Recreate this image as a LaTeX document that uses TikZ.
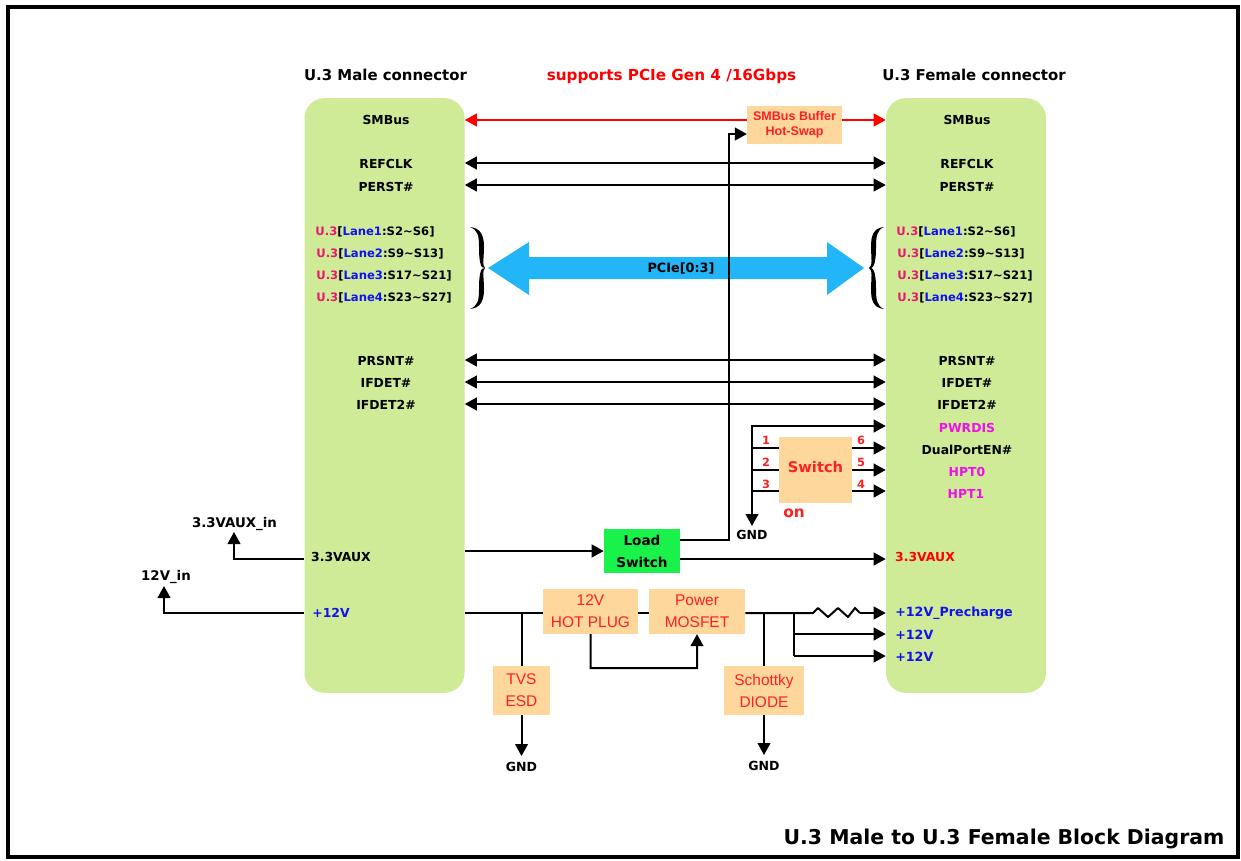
\documentclass[tikz,border=0pt]{standalone}
\usepackage{fontspec}
\setmainfont{DejaVu Sans}
\newfontfamily\armfont{Liberation Sans}
\usetikzlibrary{arrows.meta,calc}
\definecolor{boxgreen}{HTML}{D0EB98}
\definecolor{peach}{HTML}{FDD79B}
\definecolor{lime}{HTML}{18F24A}
\definecolor{skyb}{HTML}{22B5F8}
\definecolor{pinkr}{HTML}{E8186E}
\definecolor{lanebl}{HTML}{1010F0}
\definecolor{magen}{HTML}{F010E8}
\definecolor{redt}{HTML}{FF2020}
\tikzset{
 x=0.75pt,y=-0.75pt,
 tip/.tip={Triangle[length=9pt,width=9.5pt]},
 conn/.style={line width=1.5pt,black},
 wire/.style={conn,-tip},
 dbl/.style={conn,tip-tip},
 panel/.style={fill=boxgreen,draw=none,rounded corners=15pt,minimum width=120pt,minimum height=446pt,inner sep=0pt},
 peachbox/.style={fill=peach,draw=none,inner sep=0pt,align=center,text=redt,font=\armfont\fontsize{11.6}{16.5}\selectfont},
 sig/.style={inner sep=0pt,yshift=-0.75pt,font=\bfseries\fontsize{9.3}{10}\selectfont},
 lanesig/.style={inner sep=0pt,font=\bfseries\fontsize{8.7}{10}\selectfont},
 gndl/.style={inner sep=0pt,font=\bfseries\fontsize{9.4}{10}\selectfont},
 hdr/.style={inner sep=0pt,yshift=-0.75pt,font=\bfseries\fontsize{11.2}{12}\selectfont},
 pin/.style={inner sep=0pt,text=redt,font=\bfseries\fontsize{8.5}{9}\selectfont},
}
\newcommand{\lane}[2]{{\color{pinkr}U.3}[{\color{lanebl}Lane#1}:#2]}
\begin{document}
\begin{tikzpicture}
\useasboundingbox (0,0) rectangle (1241,860);
\fill[white] (0,0) rectangle (1241,860);
\draw[black,line width=2.6pt] (8,7) rectangle (1238,857);
\node[panel] (male) at (384.5,395.5) {};
\node[panel] (female) at (966,395.5) {};
\node[hdr] (tm) at (385.5,74) {U.3 Male connector};
\node[hdr] (tf) at (974,74) {U.3 Female connector};
\node[hdr,text=red,font=\bfseries\fontsize{11.4}{12}\selectfont] (ts) at (671.5,75) {supports PCIe Gen 4 /16Gbps};
\node[inner sep=0pt,font=\bfseries\fontsize{15.3}{16}\selectfont] (tb) at (1004,838.5) {U.3 Male to U.3 Female Block Diagram};
% male labels
\node[sig] (ma) at (386,119) {SMBus};
\node[sig] (mb) at (386,163) {REFCLK};
\node[sig] (mc) at (386,186) {PERST\#};
\node[lanesig] (ml1) at (375,232) {\lane{1}{S2\textasciitilde S6}};
\node[lanesig] (ml2) at (380,254) {\lane{2}{S9\textasciitilde S13}};
\node[lanesig] (ml3) at (384,276) {\lane{3}{S17\textasciitilde S21}};
\node[lanesig] (ml4) at (384,298) {\lane{4}{S23\textasciitilde S27}};
\node[sig] (md) at (386,360) {PRSNT\#};
\node[sig] (me) at (386,382) {IFDET\#};
\node[sig] (mf) at (386,404) {IFDET2\#};
\node[sig] (mg) at (341,556) {3.3VAUX};
\node[sig,text=lanebl] (mh) at (331,612) {+12V};
% female labels
\node[sig] (fa) at (967,119) {SMBus};
\node[sig] (fb) at (967,163) {REFCLK};
\node[sig] (fc) at (967,186) {PERST\#};
\node[lanesig] (fl1) at (956,232) {\lane{1}{S2\textasciitilde S6}};
\node[lanesig] (fl2) at (961,254) {\lane{2}{S9\textasciitilde S13}};
\node[lanesig] (fl3) at (965,276) {\lane{3}{S17\textasciitilde S21}};
\node[lanesig] (fl4) at (965,298) {\lane{4}{S23\textasciitilde S27}};
\node[sig] (fd) at (967,360) {PRSNT\#};
\node[sig] (fe) at (967,382) {IFDET\#};
\node[sig] (ff) at (967,404) {IFDET2\#};
\node[sig,text=magen] (fg) at (967,427) {PWRDIS};
\node[sig] (fh) at (967,449) {DualPortEN\#};
\node[sig,text=magen] (fi) at (967,471) {HPT0};
\node[sig,text=magen] (fj) at (966,493) {HPT1};
\node[sig,text=red] (fk) at (925,556) {3.3VAUX};
\node[sig,text=lanebl,anchor=west,font=\bfseries\fontsize{9.5}{10}\selectfont] (fm) at (895,612) {+12V\_Precharge};
\node[sig,text=lanebl,anchor=west,font=\bfseries\fontsize{9.5}{10}\selectfont] (fn) at (895,634) {+12V};
\node[sig,text=lanebl,anchor=west,font=\bfseries\fontsize{9.5}{10}\selectfont] (fo) at (895,656) {+12V};
% PCIe arrow
\fill[skyb] (488,268) -- (529,242) -- (529,257) -- (827,257) -- (827,242) -- (864,268) -- (827,295) -- (827,279) -- (529,279) -- (529,295) -- cycle;
\node[sig,font=\bfseries\fontsize{9.6}{10}\selectfont] (pcielab) at (681,267) {PCIe[0:3]};
% braces
\fill[black] (470,227) .. controls (481,228) and (484,236) .. (484,247) .. controls (484,257) and (482,266) .. (485,268) .. controls (480,270) and (479,258) .. (479,247) .. controls (479,236) and (478,230) .. (470,227) -- cycle;
\fill[black] (470,309) .. controls (481,308) and (484,300) .. (484,289) .. controls (484,279) and (482,270) .. (485,268) .. controls (480,266) and (479,278) .. (479,289) .. controls (479,300) and (478,306) .. (470,309) -- cycle;
\fill[black] (884,227) .. controls (873,228) and (871,236) .. (871,247) .. controls (871,257) and (873,266) .. (869,268) .. controls (875,270) and (876,258) .. (876,247) .. controls (876,236) and (877,230) .. (884,227) -- cycle;
\fill[black] (884,309) .. controls (873,308) and (871,300) .. (871,289) .. controls (871,279) and (873,270) .. (869,268) .. controls (875,266) and (876,278) .. (876,289) .. controls (876,300) and (877,306) .. (884,309) -- cycle;
% boxes
\node[fill=lime,minimum width=57pt,minimum height=33pt,inner sep=0pt,align=center,font=\bfseries\fontsize{10.2}{16.5}\selectfont] (load) at (642,551) {Load\\Switch};
\node[peachbox,minimum width=71pt,minimum height=28.5pt,font=\bfseries\armfont\fontsize{9.4}{11.5}\selectfont] (buf) at (794.5,125) {SMBus Buffer\\Hot-Swap};
\node[peachbox,minimum width=71pt,minimum height=33.5pt] (hot) at (590.5,611.5) {12V\\HOT PLUG};
\node[peachbox,minimum width=72pt,minimum height=33.5pt] (mos) at (697,611.5) {Power\\MOSFET};
\node[peachbox,minimum width=43pt,minimum height=37pt] (tvs) at (521.5,690.5) {TVS\\ESD};
\node[peachbox,minimum width=60pt,minimum height=37pt] (sch) at (764,690.5) {Schottky\\DIODE};
\node[fill=peach,inner sep=0pt,minimum width=54.5pt,minimum height=49.5pt,draw=none] (sw) at (815.5,470) {};
\node[inner sep=0pt,text=redt,font=\bfseries\fontsize{11}{13}\selectfont] (swl) at (815.5,467) {Switch};
\node[inner sep=0pt,text=redt,font=\bfseries\fontsize{11.5}{13}\selectfont] (on) at (794,513) {on};
% GND
\node[gndl] (g1) at (752,535) {GND};
\node[gndl] (g2) at (521.5,767) {GND};
\node[gndl] (g3) at (764,766) {GND};
% aux labels
\node[sig,font=\bfseries\fontsize{10}{10}\selectfont] (in33) at (234.5,523) {3.3VAUX\_in};
\node[sig,font=\bfseries\fontsize{10}{10}\selectfont] (in12) at (166,576) {12V\_in};
% pins
\node[pin] (p1) at (766,440) {1};
\node[pin] (p2) at (766,462) {2};
\node[pin] (p3) at (766,484) {3};
\node[pin] (p6) at (861,440) {6};
\node[pin] (p5) at (861,462) {5};
\node[pin] (p4) at (861,484) {4};
% connectors
\coordinate (y1) at (0,120);
\coordinate (y2) at (0,163);
\coordinate (y3) at (0,185);
\coordinate (y4) at (0,360);
\coordinate (y5) at (0,382);
\coordinate (y6) at (0,404);
\draw[conn,red,tip-] (male.east |- y1) -- (buf.west |- y1);
\draw[conn,red,-tip] (buf.east |- y1) -- (female.west |- y1);
\draw[dbl] (male.east |- y2) -- (female.west |- y2);
\draw[dbl] (male.east |- y3) -- (female.west |- y3);
\draw[dbl] (male.east |- y4) -- (female.west |- y4);
\draw[dbl] (male.east |- y5) -- (female.west |- y5);
\draw[dbl] (male.east |- y6) -- (female.west |- y6);
\coordinate (jsw) at (752,426);
\coordinate (js1) at (752,448);
\coordinate (js2) at (752,470);
\coordinate (js3) at (752,491);
\coordinate (bgnd) at (752,526);
\draw[wire] (js3) -- (jsw) -- (female.west |- jsw);
\draw[wire] (jsw) -- (bgnd);
\draw[conn] (js1) -- (sw.west |- js1);
\draw[conn] (js2) -- (sw.west |- js2);
\draw[conn] (js3) -- (sw.west |- js3);
\draw[wire] (sw.east |- js1) -- (female.west |- js1);
\draw[wire] (sw.east |- js2) -- (female.west |- js2);
\draw[wire] (sw.east |- js3) -- (female.west |- js3);
% load switch
\draw[wire] (male.east |- load) -- (load.west);
\coordinate (l1) at (680,540);
\coordinate (l2) at (729,540);
\coordinate (l3) at (729,134);
\draw[wire] (load.east |- l1) -- (l2) -- (l3) -- (buf.west |- l3);
\coordinate (l4) at (680,559);
\draw[wire] (load.east |- l4) -- (female.west |- l4);
% aux in
\coordinate (a1) at (234,559);
\coordinate (a2) at (234,532);
\draw[wire] (male.west |- a1) -- (a1) -- (a2);
\coordinate (b1) at (164,613);
\coordinate (b2) at (164,586);
\draw[wire] (male.west |- b1) -- (b1) -- (b2);
% 12V
\coordinate (r0) at (0,613);
\draw[conn] (male.east |- r0) -- (hot.west |- r0);
\draw[conn] (hot.east |- r0) -- (mos.west |- r0);
\coordinate (t1) at (tvs.north |- r0);
\draw[conn] (t1) -- (tvs.north);
\draw[wire] (tvs.south) -- (521.5,756);
\coordinate (s1) at (sch.north |- r0);
\draw[conn] (s1) -- (sch.north);
\draw[wire] (sch.south) -- (764,755);
\coordinate (rj) at (794,613);
\coordinate (rs) at (813,613);
\coordinate (re) at (860,613);
\draw[conn,line join=round] (mos.east |- r0) -- (rs) -- (818,608) -- (828,617) -- (838,608) -- (848,617) -- (855,608) -- (re);
\draw[wire] (re) -- (female.west |- re);
\coordinate (rk) at (794,634);
\coordinate (rl) at (794,656);
\draw[conn] (rj) -- (rl);
\draw[wire] (rk) -- (female.west |- rk);
\draw[wire] (rl) -- (female.west |- rl);
\coordinate (h1) at (590.7,668);
\coordinate (h2) at (697,668);
\draw[wire] (hot.south) -- (h1) -- (h2) -- (mos.south);
\end{tikzpicture}
\end{document}
